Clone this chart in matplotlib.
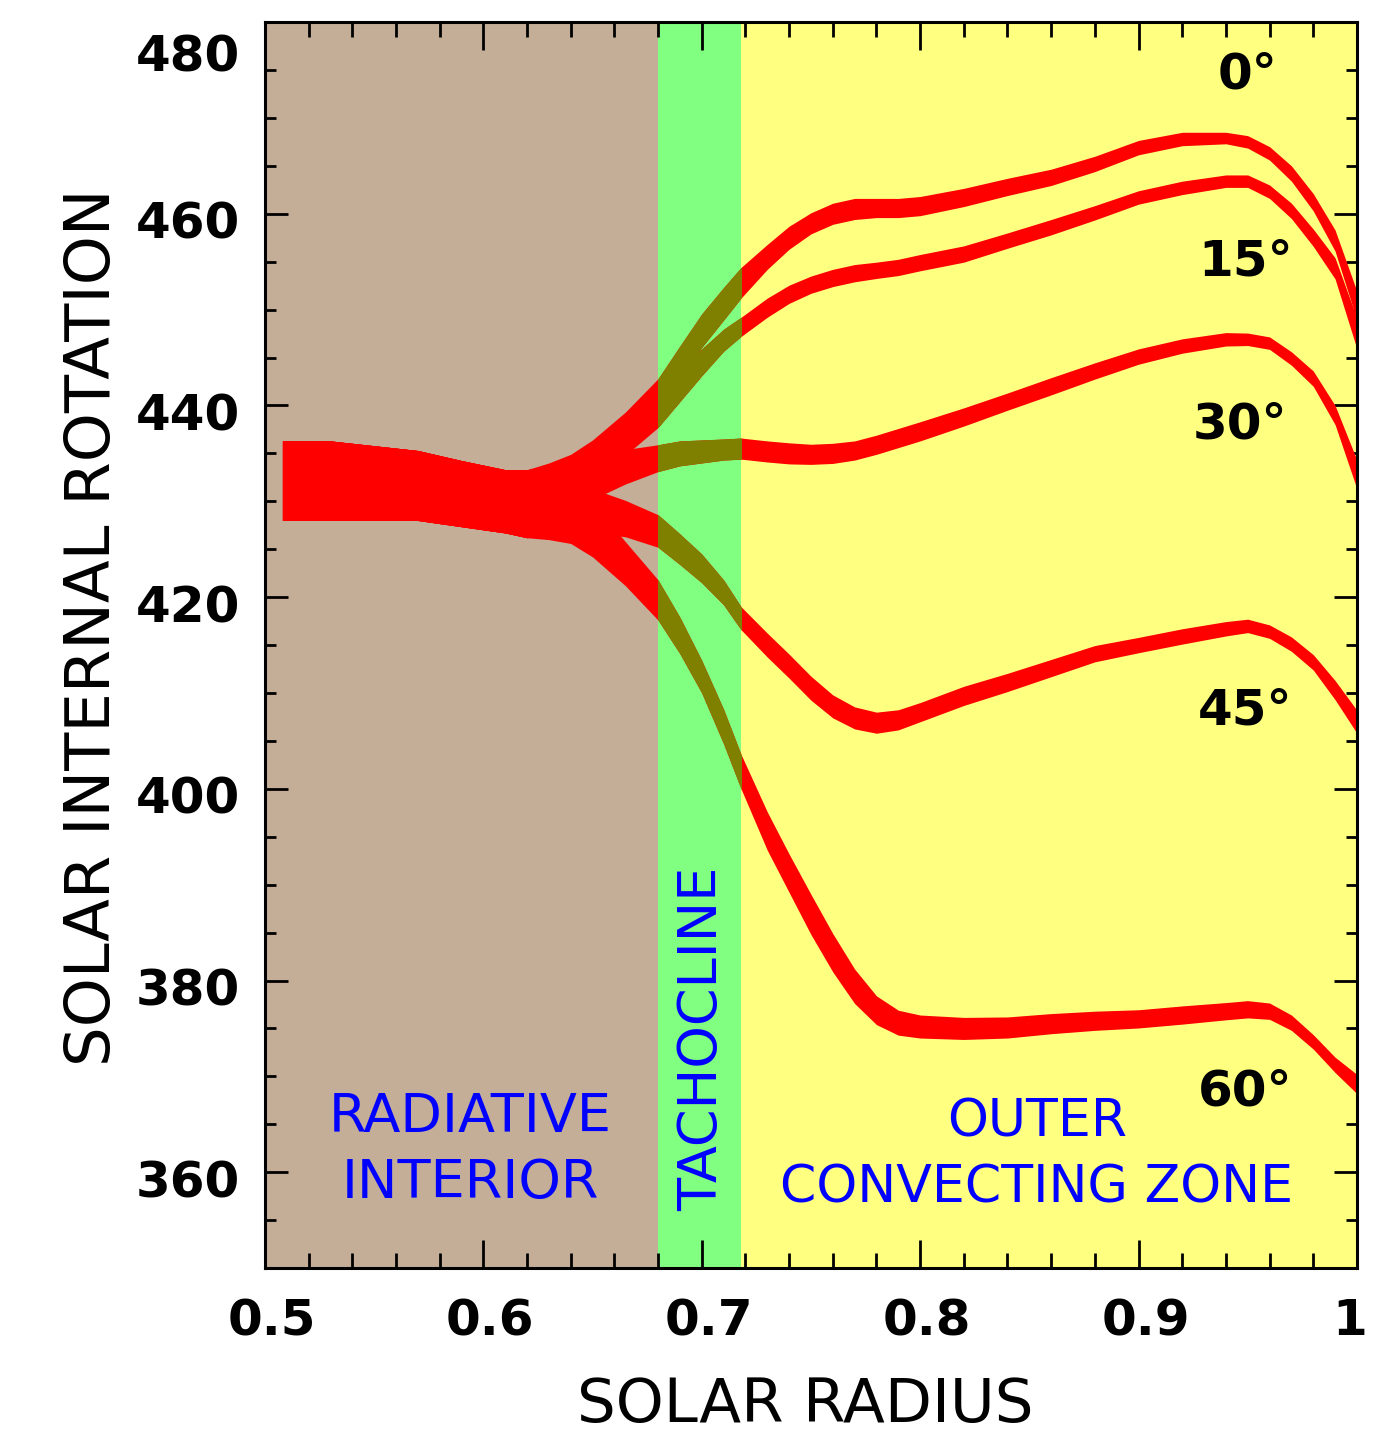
import matplotlib

matplotlib.use("Agg")
import matplotlib.pyplot as plt
import matplotlib.transforms as mtransforms
from matplotlib.patches import Rectangle
from matplotlib.ticker import MultipleLocator

# fractional solar radius where the rotation rate was sampled
radius = [0.508, 0.53, 0.55, 0.57, 0.59, 0.61, 0.62, 0.63, 0.64, 0.65, 0.665,
          0.68, 0.69, 0.70, 0.71, 0.718, 0.73, 0.74, 0.75, 0.76, 0.77, 0.78,
          0.79, 0.80, 0.82, 0.84, 0.86, 0.88, 0.90, 0.92, 0.94, 0.95, 0.96,
          0.97, 0.98, 0.99, 1.0]

# shared radiative-interior trunk (all latitudes agree there)
trunk = [432.15, 432.15, 431.9, 431.65, 430.8, 430.0, 429.75]
trunk_err = [4.15, 4.15, 3.9, 3.65, 3.45, 3.3, 3.55]

# rotation rate (nHz) and half-width of the uncertainty band per latitude
rate_00 = trunk + [430.8, 432.0, 434.0, 437.3, 441.0, 444.4, 447.8, 450.6, 452.8,
                   455.5, 457.5, 459.0, 460.0, 460.5, 460.6, 460.6, 460.8, 461.7,
                   462.8, 463.8, 465.2, 466.9, 467.8, 467.9, 467.5, 466.3, 464.2,
                   461.2, 457.2, 450.4]
err_00 = trunk_err + [3.2, 2.9, 2.4, 2.0, 1.8, 1.8, 1.75, 1.7, 1.6, 1.3, 1.2, 1.1,
                      1.1, 1.1, 1.0, 1.0, 1.0, 0.95, 0.9, 0.85, 0.8, 0.75, 0.7,
                      0.6, 0.65, 0.7, 0.8, 0.9, 1.1, 1.5]

rate_15 = trunk + [430.6, 431.8, 433.8, 436.8, 439.5, 442.0, 444.5, 446.8, 448.2,
                   450.2, 451.6, 452.6, 453.3, 453.8, 454.1, 454.4, 454.9, 455.8,
                   457.2, 458.6, 460.1, 461.7, 462.7, 463.4, 463.4, 462.3, 460.3,
                   457.5, 454.3, 447.5]
err_15 = trunk_err + [3.2, 2.9, 2.4, 2.0, 1.8, 1.6, 1.4, 1.15, 1.0, 1.0, 0.95,
                      0.9, 0.9, 0.9, 0.85, 0.85, 0.85, 0.85, 0.8, 0.8, 0.75, 0.7,
                      0.7, 0.65, 0.65, 0.7, 0.8, 0.9, 1.1, 1.6]

rate_30 = trunk + [430.2, 431.3, 432.5, 433.6, 434.5, 435.0, 435.2, 435.4, 435.5,
                   435.2, 435.0, 434.9, 435.0, 435.3, 435.9, 436.6, 437.3, 438.8,
                   440.4, 442.0, 443.6, 445.1, 446.2, 446.9, 446.9, 446.5, 444.9,
                   442.8, 439.0, 432.8]
err_30 = trunk_err + [3.4, 2.8, 2.3, 1.8, 1.4, 1.3, 1.2, 1.1, 1.1, 1.1, 1.1, 1.05,
                      1.05, 1.0, 1.0, 1.0, 1.0, 0.95, 0.9, 0.9, 0.85, 0.8, 0.75,
                      0.7, 0.65, 0.65, 0.7, 0.8, 1.0, 1.5]

rate_45 = trunk + [429.7, 429.4, 429.0, 428.2, 426.9, 425.0, 423.0, 420.5, 417.8,
                   415.0, 412.8, 410.5, 408.6, 407.4, 406.9, 407.2, 408.0, 409.7,
                   411.1, 412.6, 414.1, 415.0, 415.9, 416.7, 417.0, 416.4, 415.1,
                   413.2, 410.3, 407.0]
err_45 = trunk_err + [3.3, 2.8, 2.3, 1.9, 1.7, 1.6, 1.5, 1.3, 1.2, 1.25, 1.25,
                      1.25, 1.2, 1.15, 1.1, 1.05, 1.0, 1.0, 0.95, 0.9, 0.85, 0.8,
                      0.8, 0.75, 0.7, 0.7, 0.75, 0.8, 1.0, 1.2]

rate_60 = trunk + [429.4, 428.3, 427.0, 423.5, 419.7, 416.0, 411.7, 406.5, 401.8,
                   395.6, 391.2, 386.9, 382.9, 379.4, 376.9, 375.6, 375.2, 375.0,
                   375.1, 375.5, 375.8, 376.0, 376.4, 376.8, 377.0, 376.8, 375.6,
                   373.6, 371.2, 369.2]
err_60 = trunk_err + [3.4, 2.7, 2.8, 2.3, 2.1, 1.9, 1.7, 1.8, 1.8, 2.0, 2.0, 2.1,
                      2.0, 1.8, 1.5, 1.3, 1.2, 1.15, 1.1, 1.05, 1.0, 0.95, 0.95,
                      0.9, 0.9, 0.85, 0.8, 0.75, 0.8, 1.0]

latitudes = ["0°", "15°", "30°", "45°", "60°"]
lat_label_x = [0.950, 0.949, 0.9465, 0.949, 0.949]
lat_label_y = [474.5, 455.0, 438.0, 408.2, 368.4]

tachocline = (0.68, 0.718)
xticks = [0.5, 0.6, 0.7, 0.8, 0.9, 1.0]
xticklabels = ["0.5", "0.6", "0.7", "0.8", "0.9", "1"]
yticks = [360, 380, 400, 420, 440, 460, 480]

BROWN = "#c4ae98"
GREEN = "#80ff80"
YELLOW = "#ffff80"
RED = "#ff0000"
OLIVE = "#808000"
BLUE = "#0000ff"

fig = plt.figure(figsize=(13.93, 14.33), dpi=100)
ax = fig.add_axes([0.1902, 0.1151, 0.7839, 0.8695])
ax.set_xlim(0.5, 1.0)
ax.set_ylim(350, 480)

ax.axvspan(0.5, tachocline[0], color=BROWN, lw=0, zorder=0)
ax.axvspan(tachocline[0], tachocline[1], color=GREEN, lw=0, zorder=0)
ax.axvspan(tachocline[1], 1.0, color=YELLOW, lw=0, zorder=0)

clip = Rectangle((tachocline[0], 350), tachocline[1] - tachocline[0], 130,
                 transform=ax.transData)

bands = [(rate_00, err_00), (rate_15, err_15), (rate_30, err_30),
         (rate_45, err_45), (rate_60, err_60)]
for rate, err in bands:
    lo = [r - e for r, e in zip(rate, err)]
    hi = [r + e for r, e in zip(rate, err)]
    ax.fill_between(radius, lo, hi, color=RED, lw=0, zorder=2)
    dark = ax.fill_between(radius, lo, hi, color=OLIVE, lw=0, zorder=3)
    dark.set_clip_path(clip)

for name, lx, ly in zip(latitudes, lat_label_x, lat_label_y):
    ax.text(lx, ly, name, fontsize=36, fontweight="bold", ha="center", va="center", zorder=4)

zone_kw = dict(color=BLUE, ha="center", va="center", zorder=4)
ax.text(0.5939, 365.8, "RADIATIVE", fontsize=39, **zone_kw)
ax.text(0.5939, 358.9, "INTERIOR", fontsize=39, **zone_kw)
ax.text(0.8535, 365.2, "OUTER", fontsize=37.5, **zone_kw)
ax.text(0.8535, 358.35, "CONVECTING ZONE", fontsize=37.5, **zone_kw)
ax.text(0.7001, 373.9, "TACHOCLINE", fontsize=39, rotation=90, **zone_kw)

ax.text(0.4945, -0.110, "SOLAR RADIUS", transform=ax.transAxes, fontsize=44,
        ha="center", va="center")
ax.text(-0.1575, 0.5144, "SOLAR INTERNAL ROTATION", transform=ax.transAxes,
        fontsize=45, rotation=90, ha="center", va="center")

ax.set_xticks(xticks)
ax.set_xticklabels(xticklabels)
ax.set_yticks(yticks)
ax.xaxis.set_minor_locator(MultipleLocator(0.02))
ax.yaxis.set_minor_locator(MultipleLocator(5))
ax.tick_params(axis="x", which="major", direction="in", top=True, length=20, width=2,
               pad=21, labelsize=36)
ax.tick_params(axis="x", which="minor", direction="in", top=True, length=11, width=2)
ax.tick_params(axis="y", which="major", direction="in", right=True, length=16.5, width=2,
               pad=18, labelsize=36)
ax.tick_params(axis="y", which="minor", direction="in", right=True, length=8, width=2)
for lbl in ax.get_xticklabels() + ax.get_yticklabels():
    lbl.set_fontweight("bold")
for spine in ax.spines.values():
    spine.set_linewidth(2.2)
    spine.set_zorder(5)

# the original tick labels sit a few pixels off their ticks
for lbl, val in zip(ax.get_xticklabels(), xticks):
    dx = -0.07 if val == 1.0 else 0.07
    lbl.set_transform(lbl.get_transform() + mtransforms.ScaledTranslation(dx, 0, fig.dpi_scale_trans))
for lbl, val in zip(ax.get_yticklabels(), yticks):
    dy = -0.30 if val == 480 else -0.06
    lbl.set_transform(lbl.get_transform() + mtransforms.ScaledTranslation(0, dy, fig.dpi_scale_trans))

fig.savefig("out.png", dpi=100, facecolor="white")
plt.close(fig)
